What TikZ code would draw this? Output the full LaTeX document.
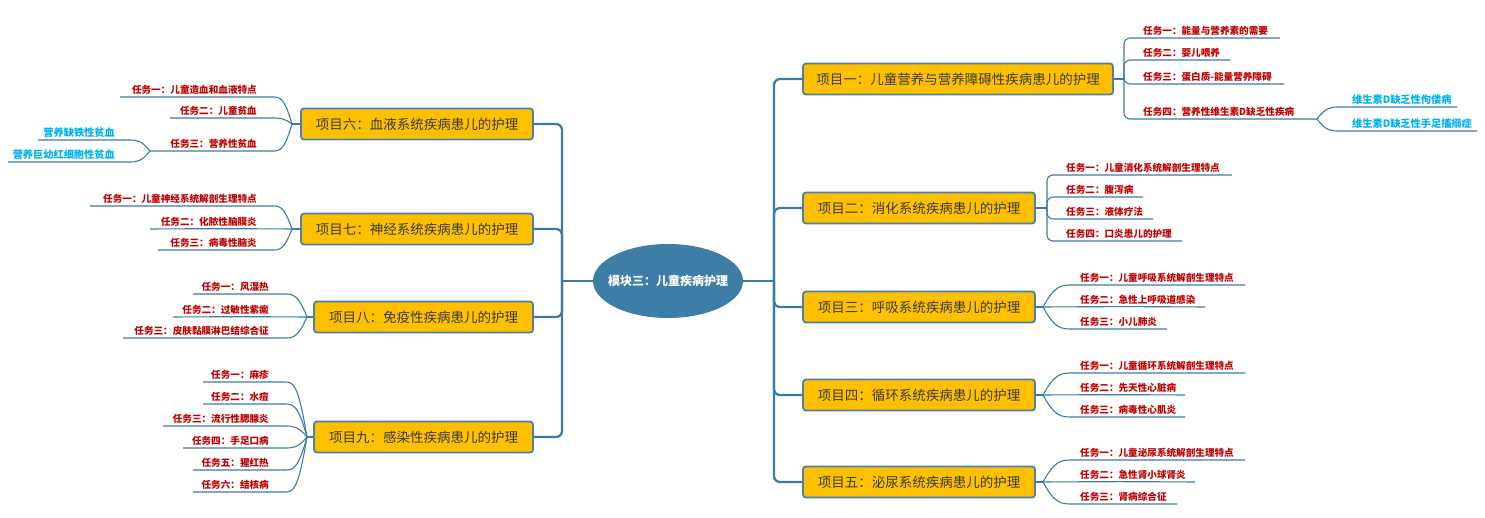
\documentclass[tikz,border=0pt]{standalone}
\usepackage{fontspec}
\setmainfont{Noto Sans CJK SC}
\usetikzlibrary{calc,shapes.geometric}
\definecolor{boxfill}{HTML}{FFC000}
\definecolor{boxline}{HTML}{4A80AB}
\definecolor{lnk}{HTML}{3D7BA4}
\definecolor{ellfill}{HTML}{3E7DA5}
\definecolor{tasktxt}{HTML}{C00000}
\definecolor{subtxt}{HTML}{00B0F0}
\definecolor{boxtxt}{HTML}{3A3A3A}
\tikzset{
  projbox/.style={draw=boxline, line width=1.8pt, fill=boxfill, rounded corners=3pt,
    minimum height=31pt, inner sep=0pt, font=\fontsize{13.5}{14}\selectfont, text=boxtxt},
  centre/.style={ellipse, fill=ellfill, minimum width=150pt, minimum height=74pt,
    inner sep=0pt},
  centretxt/.style={inner sep=0pt, font=\fontsize{12}{13}\selectfont\bfseries, text=white},
  task/.style={inner sep=0pt, font=\fontsize{9.6}{10}\selectfont\bfseries, text=tasktxt},
  subtask/.style={inner sep=0pt, font=\fontsize{10.2}{11}\selectfont\bfseries, text=subtxt},
  trunk/.style={draw=lnk, line width=2.8pt},
  branch/.style={draw=lnk, line width=2.3pt, rounded corners=6pt},
  tl/.style={draw=lnk, line width=1.1pt},
}
% right fan: name, apex name, apex x, curve end x, y, line end x, text
\newcommand{\RFan}[7]{%
  \coordinate (#1-s) at (#4,#5);
  \coordinate (#1-e) at (#6,#5);
  \node[task, anchor=base west] (#1) at (#4+7,#5-4) {#7};
  \draw[tl] (#2) .. controls (#3+0.4*#4-0.4*#3,#5) and (#3+0.6*#4-0.6*#3,#5) .. (#1-s) -- (#1-e);
}
% right straight (middle) task: name, apex name, curve end x, y, line end x, text
\newcommand{\RMid}[6]{%
  \coordinate (#1-e) at (#5,#4);
  \node[task, anchor=base west] (#1) at (#3+7,#4-4) {#6};
  \draw[tl] (#2) to[bend left=0.4] (#1-e);
}
% left fan: name, apex name, apex x, curve end x, y, line start x, text
\newcommand{\LFan}[7]{%
  \coordinate (#1-s) at (#4,#5);
  \coordinate (#1-e) at (#6,#5);
  \node[task, anchor=base east] (#1) at (#4-15,#5-4) {#7};
  \draw[tl] (#2) .. controls (#3+0.4*#4-0.4*#3,#5) and (#3+0.6*#4-0.6*#3,#5) .. (#1-s) -- (#1-e);
}
% left straight (middle) task: name, apex name, curve end x, y, line start x, text
\newcommand{\LMid}[6]{%
  \coordinate (#1-e) at (#5,#4);
  \node[task, anchor=base east] (#1) at (#3-15,#4-4) {#6};
  \draw[tl] (#2) to[bend right=0.4] (#1-e);
}
% right bracket: name, bracket coordinate, bracket x, y, end x, text
\newcommand{\RBr}[6]{%
  \coordinate (#1-e) at (#5,#4);
  \node[task, anchor=base west] (#1) at (#3+19,#4-4) {#6};
  \draw[tl, rounded corners=6pt] (#2) |- (#1-e);
}
\begin{document}
\begin{tikzpicture}[x=1pt, y=-1pt]
\useasboundingbox (0,0) rectangle (1485,517);

% centre
\node[centre] (c) at (668,281) {};
\node[centretxt] (ct) at (c.center) {模块三：儿童疾病护理};

% right boxes
\node[projbox, minimum width=310pt] (p1) at (958,79) {项目一：儿童营养与营养障碍性疾病患儿的护理};
\node[projbox, minimum width=232pt] (p2) at (919,208) {项目二：消化系统疾病患儿的护理};
\node[projbox, minimum width=232pt] (p3) at (919,307) {项目三：呼吸系统疾病患儿的护理};
\node[projbox, minimum width=232pt] (p4) at (919,395) {项目四：循环系统疾病患儿的护理};
\node[projbox, minimum width=232pt] (p5) at (919,482) {项目五：泌尿系统疾病患儿的护理};
% left boxes
\node[projbox, minimum width=232pt] (p6) at (417,124) {项目六：血液系统疾病患儿的护理};
\node[projbox, minimum width=232pt] (p7) at (417,229) {项目七：神经系统疾病患儿的护理};
\node[projbox, minimum width=219pt] (p8) at (423.5,317) {项目八：免疫性疾病患儿的护理};
\node[projbox, minimum width=219pt] (p9) at (423.5,437) {项目九：感染性疾病患儿的护理};

% trunks
\coordinate (rt) at (774,281);
\coordinate (lt) at (562,281);
\draw[trunk] (c.east) -- (rt);
\draw[trunk] (c.west) -- (lt);
\foreach \p in {p1,p2,p3,p4,p5} \draw[branch] (rt) |- (\p.west);
\foreach \p in {p6,p7,p8,p9} \draw[branch] (lt) |- (\p.east);

% project 1 (bracket)
\coordinate (b1) at (1124,79);
\draw[tl] (p1.east) -- (b1);
\RBr{t11}{b1}{1124}{38}{1280}{任务一：能量与营养素的需要}
\RBr{t12}{b1}{1124}{60}{1230}{任务二：婴儿喂养}
\RBr{t13}{b1}{1124}{84}{1284}{任务三：蛋白质-能量营养障碍}
\RBr{t14}{b1}{1124}{119}{1317}{任务四：营养性维生素D缺乏性疾病}
\coordinate (a14) at (1317,119);
\coordinate (s141-s) at (1340,107);
\coordinate (s141-e) at (1457,107);
\coordinate (s142-s) at (1340,131);
\coordinate (s142-e) at (1477,131);
\draw[tl] (a14) .. controls (1326,107) and (1331,107) .. (s141-s) -- (s141-e);
\draw[tl] (a14) .. controls (1326,131) and (1331,131) .. (s142-s) -- (s142-e);
\node[subtask, anchor=base west] (s141) at (1352,103) {维生素D缺乏性佝偻病};
\node[subtask, anchor=base west] (s142) at (1352,127) {维生素D缺乏性手足搐搦症};

% project 2 (bracket)
\coordinate (b2) at (1047,208);
\draw[tl] (p2.east) -- (b2);
\RBr{t21}{b2}{1047}{175}{1232}{任务一：儿童消化系统解剖生理特点}
\RBr{t22}{b2}{1047}{197}{1143}{任务二：腹泻病}
\RBr{t23}{b2}{1047}{219}{1153}{任务三：液体疗法}
\RBr{t24}{b2}{1047}{241}{1182}{任务四：口炎患儿的护理}

% project 3
\coordinate (a3) at (1043,307);
\draw[tl] (p3.east) -- (a3);
\RFan{t31}{a3}{1043}{1073}{285}{1245}{任务一：儿童呼吸系统解剖生理特点}
\RMid{t32}{a3}{1073}{307}{1205}{任务二：急性上呼吸道感染}
\RFan{t33}{a3}{1043}{1073}{329}{1167}{任务三：小儿肺炎}

% project 4
\coordinate (a4) at (1043,395);
\draw[tl] (p4.east) -- (a4);
\RFan{t41}{a4}{1043}{1073}{373}{1245}{任务一：儿童循环系统解剖生理特点}
\RMid{t42}{a4}{1073}{395}{1185}{任务二：先天性心脏病}
\RFan{t43}{a4}{1043}{1073}{417}{1185}{任务三：病毒性心肌炎}

% project 5
\coordinate (a5) at (1043,482);
\draw[tl] (p5.east) -- (a5);
\RFan{t51}{a5}{1043}{1073}{460}{1245}{任务一：儿童泌尿系统解剖生理特点}
\RMid{t52}{a5}{1073}{482}{1195}{任务二：急性肾小球肾炎}
\RFan{t53}{a5}{1043}{1073}{504}{1177}{任务三：肾病综合征}

% project 6
\coordinate (a6) at (292,124);
\draw[tl] (p6.west) -- (a6);
\LFan{t61}{a6}{292}{272}{97}{120}{任务一：儿童造血和血液特点}
\LFan{t62}{a6}{292}{272}{118}{170}{任务二：儿童贫血}
\LFan{t63}{a6}{292}{272}{151}{150}{任务三：营养性贫血}
\coordinate (a63) at (150,151);
\coordinate (s631-s) at (128,140);
\coordinate (s631-e) at (38,140);
\coordinate (s632-s) at (128,162);
\coordinate (s632-e) at (8,162);
\draw[tl] (a63) .. controls (141,140) and (137,140) .. (s631-s) -- (s631-e);
\draw[tl] (a63) .. controls (141,162) and (137,162) .. (s632-s) -- (s632-e);
\node[subtask, anchor=base east] (s631) at (115,136) {营养缺铁性贫血};
\node[subtask, anchor=base east] (s632) at (115,158) {营养巨幼红细胞性贫血};

% project 7
\coordinate (a7) at (292,229);
\draw[tl] (p7.west) -- (a7);
\LFan{t71}{a7}{292}{272}{206}{90}{任务一：儿童神经系统解剖生理特点}
\LMid{t72}{a7}{272}{229}{150}{任务二：化脓性脑膜炎}
\LFan{t73}{a7}{292}{272}{250}{158}{任务三：病毒性脑炎}

% project 8
\coordinate (a8) at (307,317);
\draw[tl] (p8.west) -- (a8);
\LFan{t81}{a8}{307}{284}{294}{193}{任务一：风湿热}
\LMid{t82}{a8}{284}{317}{173}{任务二：过敏性紫癜}
\LFan{t83}{a8}{307}{284}{338}{123}{任务三：皮肤黏膜淋巴结综合征}

% project 9
\coordinate (a9) at (307,437);
\draw[tl] (p9.west) -- (a9);
\LFan{t91}{a9}{307}{284}{382}{203}{任务一：麻疹}
\LFan{t92}{a9}{307}{284}{404}{203}{任务二：水痘}
\LFan{t93}{a9}{307}{284}{426}{163}{任务三：流行性腮腺炎}
\LFan{t94}{a9}{307}{284}{448}{183}{任务四：手足口病}
\LFan{t95}{a9}{307}{284}{470}{193}{任务五：猩红热}
\LFan{t96}{a9}{307}{284}{492}{193}{任务六：结核病}
\end{tikzpicture}
\end{document}
